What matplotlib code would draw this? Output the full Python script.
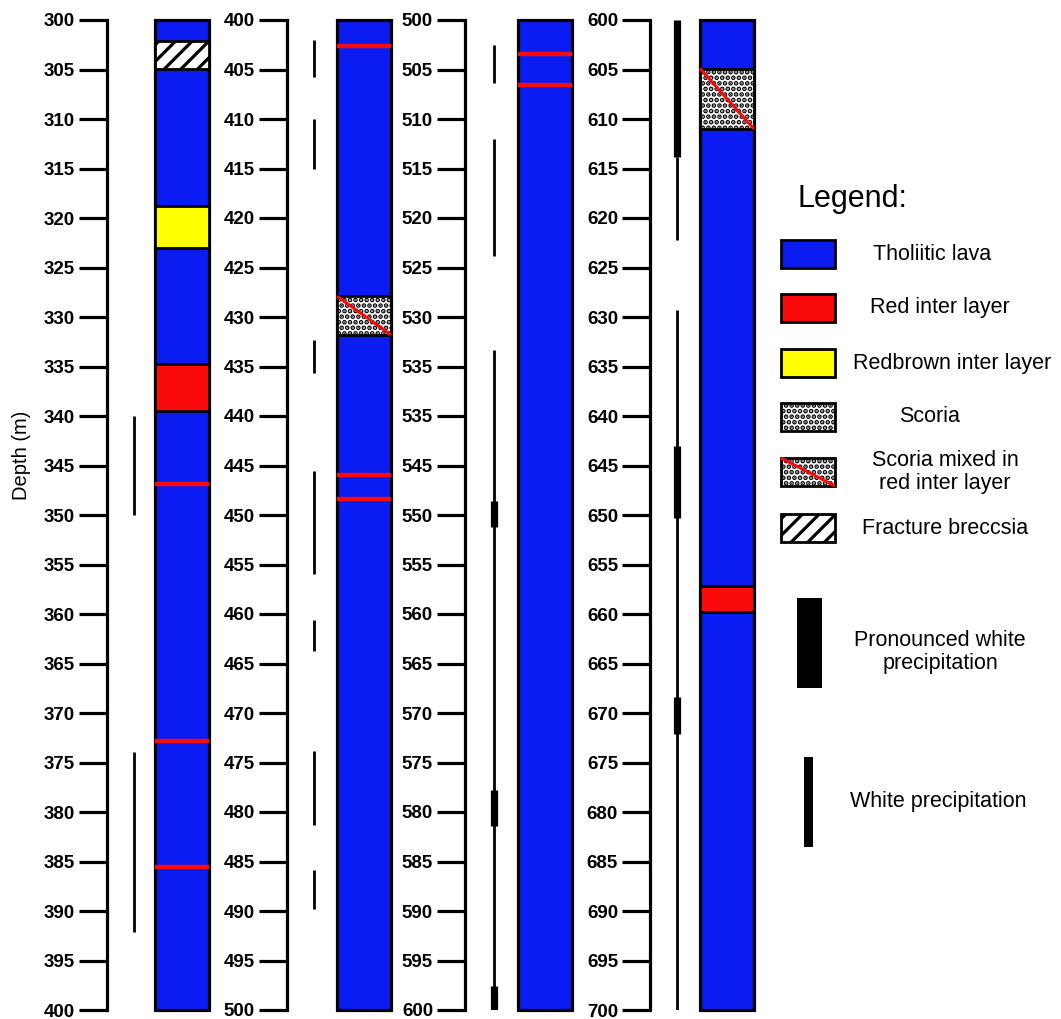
import numpy as np
import matplotlib
matplotlib.use('Agg')
import matplotlib.pyplot as plt
from matplotlib.patches import Rectangle

plt.rcParams['font.family'] = ['Liberation Sans', 'DejaVu Sans']

W, H = 1061, 1019

# depth window of every column (m)
col_tops = [300, 400, 500, 600]

# tick labels (the 540 m tick of column 3 is printed as 535 in the original)
c1_labels = [str(v) for v in range(300, 401, 5)]
c2_labels = [str(v) for v in range(400, 501, 5)]
c3_labels = ['500', '505', '510', '515', '520', '525', '530', '535', '535', '545',
             '550', '555', '560', '565', '570', '575', '580', '585', '590', '595', '600']
c4_labels = [str(v) for v in range(600, 701, 5)]

# column 1 : 300-400 m
c1_layer_top = [302.1, 318.8, 334.7]
c1_layer_base = [304.9, 323.0, 339.5]
c1_layer_kind = ['breccia', 'redbrown', 'red']
c1_red_lines = [346.9, 372.8, 385.6]
c1_prec_top = [340.0, 373.9]
c1_prec_base = [350.0, 392.1]
c1_prec_kind = ['thin', 'thin']

# column 2 : 400-500 m
c2_layer_top = [427.9]
c2_layer_base = [431.8]
c2_layer_kind = ['scoria_red']
c2_red_lines = [402.6, 446.0, 448.4]
c2_prec_top = [402.0, 410.0, 432.3, 445.6, 460.6, 473.8, 485.9]
c2_prec_base = [405.8, 415.0, 435.7, 456.0, 463.7, 481.3, 489.8]
c2_prec_kind = ['thin'] * 7

# column 3 : 500-600 m
c3_layer_top = []
c3_layer_base = []
c3_layer_kind = []
c3_red_lines = [503.4, 506.6]
c3_prec_top = [502.5, 512.0, 533.3, 548.6, 577.8, 597.6]
c3_prec_base = [506.4, 523.8, 600.0, 551.2, 581.4, 600.0]
c3_prec_kind = ['thin', 'thin', 'thin', 'pronounced', 'pronounced', 'pronounced']

# column 4 : 600-700 m
c4_layer_top = [604.9, 657.2]
c4_layer_base = [611.0, 659.8]
c4_layer_kind = ['scoria_red', 'red']
c4_red_lines = []
c4_prec_top = [600.0, 613.8, 629.3, 643.0, 668.4]
c4_prec_base = [613.8, 622.2, 700.0, 650.3, 672.1]
c4_prec_kind = ['pronounced', 'thin', 'thin', 'pronounced', 'pronounced']

BLUE = '#0a1cf2'
RED = '#fa0a0a'
YELLOW = '#ffff00'

CORE_W = 54


def add_rect(ax, x0, y0, w, h, kind, lw=1.6, clip=True):
    face = {'lava': BLUE, 'red': RED, 'redbrown': YELLOW}.get(kind, 'white')
    hatch = {'breccia': '//', 'scoria': '...', 'scoria_red': '...'}.get(kind)
    hlw = 2.3 if kind == 'breccia' else 2.4
    with plt.rc_context({'hatch.linewidth': hlw}):
        r = Rectangle((x0, y0), w, h, facecolor=face, edgecolor='black',
                      linewidth=lw, hatch=hatch, clip_on=clip)
    if hatch is not None and hasattr(r, 'set_hatch_linewidth'):
        r.set_hatch_linewidth(hlw)
    ax.add_patch(r)
    if kind == 'scoria_red':
        ax.plot([x0, x0 + w], [y0, y0 + h], color=RED, lw=2.2,
                solid_capstyle='butt', clip_on=clip)
    return r


def draw_column(ax, top, core_l, prec_x, labels, l_top, l_base, l_kind, red_lines,
                p_top, p_base, p_kind):
    ax.set_xlim(0, 110)
    ax.set_ylim(top + 100, top)
    ax.set_yticks(np.arange(top, top + 101, 5))
    ax.set_yticklabels(labels, fontweight='bold')
    ax.tick_params(axis='y', length=20, width=2.3, pad=3, labelsize=13.5)
    ax.set_xticks([])
    for s in ['top', 'right', 'bottom']:
        ax.spines[s].set_visible(False)
    ax.spines['left'].set_linewidth(2.3)
    ax.patch.set_visible(False)

    # core
    add_rect(ax, core_l, top, CORE_W, 100, 'lava', lw=2.3, clip=False)
    for t, b, k in zip(l_top, l_base, l_kind):
        add_rect(ax, core_l, t, CORE_W, b - t, k, lw=2.0)
    ax.hlines(red_lines, core_l, core_l + CORE_W, colors=RED, lw=3.2)

    # white precipitation
    for t, b, k in zip(p_top, p_base, p_kind):
        lw = 5.2 if k == 'pronounced' else 2.0
        z = 3 if k == 'pronounced' else 2
        ax.vlines(prec_x, t, b, colors='black', lw=lw, zorder=z)


fig = plt.figure(figsize=(W / 100, H / 100), dpi=100)

spine_x = [107, 287, 465, 650]
core_left = [48, 50, 53, 50]
prec_xs = [27, 27, 29, 27]
columns = [
    (c1_labels, c1_layer_top, c1_layer_base, c1_layer_kind, c1_red_lines, c1_prec_top, c1_prec_base, c1_prec_kind),
    (c2_labels, c2_layer_top, c2_layer_base, c2_layer_kind, c2_red_lines, c2_prec_top, c2_prec_base, c2_prec_kind),
    (c3_labels, c3_layer_top, c3_layer_base, c3_layer_kind, c3_red_lines, c3_prec_top, c3_prec_base, c3_prec_kind),
    (c4_labels, c4_layer_top, c4_layer_base, c4_layer_kind, c4_red_lines, c4_prec_top, c4_prec_base, c4_prec_kind),
]
for sx, top, cl, px, col in zip(spine_x, col_tops, core_left, prec_xs, columns):
    ax = fig.add_axes([sx / W, 1 - 1010 / H, 110 / W, 990 / H])
    draw_column(ax, top, cl, px, *col)

fig.text(22 / W, 1 - 455 / H, 'Depth (m)', rotation=90, ha='center', va='center', fontsize=14.5)

# legend drawn in pixel space
lg = fig.add_axes([0, 0, 1, 1])
lg.set_xlim(0, W)
lg.set_ylim(H, 0)
lg.axis('off')

lg.text(797, 207, 'Legend:', fontsize=22, ha='left', va='baseline')
legend_kind = ['lava', 'red', 'redbrown', 'scoria', 'scoria_red', 'breccia']
legend_text = ['Tholiitic lava', 'Red inter layer', 'Redbrown inter layer', 'Scoria',
               'Scoria mixed in\nred inter layer', 'Fracture breccsia']
box_y = [240, 294, 349, 403, 458, 514]
text_x = [932, 940, 952, 930, 945, 945]
for k, t, y, tx in zip(legend_kind, legend_text, box_y, text_x):
    add_rect(lg, 781, y, 54, 28, k, lw=2.0)
    lg.text(tx, y + 14, t, fontsize=15.5, ha='center', va='center', linespacing=1.15)

lg.add_patch(Rectangle((797, 598), 25, 90, facecolor='black', edgecolor='none'))
lg.text(940, 652, 'Pronounced white\nprecipitation', fontsize=15.5, ha='center', va='center',
        linespacing=1.15)
lg.add_patch(Rectangle((804, 757), 9, 90, facecolor='black', edgecolor='none'))
lg.text(938, 801, 'White precipitation', fontsize=15.5, ha='center', va='center')

fig.savefig('out.png', dpi=100)
